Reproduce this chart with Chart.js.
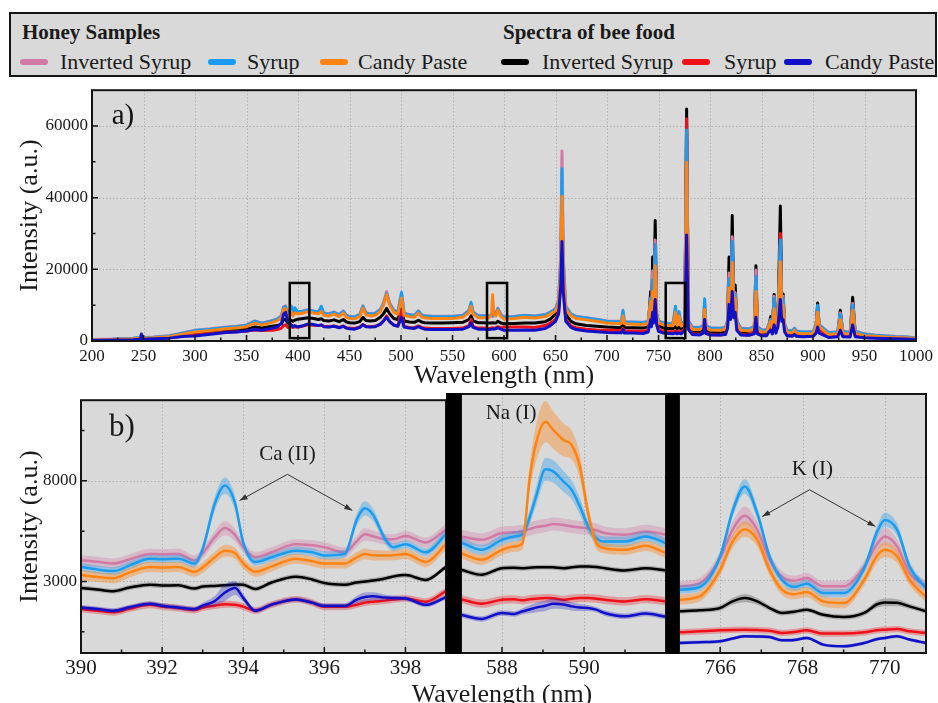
<!DOCTYPE html>
<html><head><meta charset="utf-8">
<script src="https://cdn.jsdelivr.net/npm/chart.js@4.4.1/dist/chart.umd.min.js"></script>
<style>
body{margin:0;background:#fff;width:938px;height:703px;overflow:hidden;position:relative;font-family:'Liberation Serif','Times New Roman',serif;color:#1a1a1a;}
canvas{position:absolute;}
.box{position:absolute;left:9px;top:12px;width:928px;height:65px;border:2px solid #151515;background:#d9d9d9;box-sizing:border-box;}
.hd{position:absolute;font-weight:bold;font-size:21px;line-height:24px;top:20px;white-space:nowrap;}
.it{position:absolute;font-size:22px;line-height:24px;top:50px;white-space:nowrap;}
.mk{position:absolute;top:59px;width:28px;height:6px;border-radius:3px;}
.bar{position:absolute;top:393px;height:261px;background:#000;}
.xt{position:absolute;font-size:26px;line-height:30px;top:679px;left:502px;transform:translateX(-50%);white-space:nowrap;}
</style></head>
<body>
<div class="box"></div>
<div class="hd" style="left:22px">Honey Samples</div>
<div class="hd" style="left:503px">Spectra of bee food</div>
<div class="mk" style="left:20px;background:#d17aa5"></div><div class="it" style="left:60px">Inverted Syrup</div>
<div class="mk" style="left:208px;background:#1b9cf0"></div><div class="it" style="left:247px">Syrup</div>
<div class="mk" style="left:320px;background:#ff8312"></div><div class="it" style="left:358px">Candy Paste</div>
<div class="mk" style="left:501px;background:#000"></div><div class="it" style="left:542px">Inverted Syrup</div>
<div class="mk" style="left:682px;background:#f0101a"></div><div class="it" style="left:724px">Syrup</div>
<div class="mk" style="left:784px;background:#1010c8"></div><div class="it" style="left:825px">Candy Paste</div>

<canvas id="ca" width="938" height="316" style="left:0;top:76px"></canvas>
<canvas id="cb1" width="460" height="317" style="left:0;top:386px"></canvas>
<canvas id="cb2" width="230" height="317" style="left:450px;top:386px"></canvas>
<canvas id="cb3" width="270" height="317" style="left:668px;top:386px"></canvas>
<div class="bar" style="left:446px;width:15px"></div>
<div class="bar" style="left:666px;width:13px"></div>
<div class="xt">Wavelength (nm)</div>

<script>
// ---------------- Panel a) full spectrum ----------------
const wlA = [
200,220,240,247,248,249,260,275,290,300,
315,330,340,350,358,365,375,380,384,386,
388,390,393.4,395,396.8,400,405,410,415,420,
422.7,425,430,435,440,444,447,450,455,460,
463,466,470,475,480,483,486,489,493,497,
500.5,503,508,513,517,520,523,530,540,550,
560,566,568,570,575,580,585,588,589,590,
592,594,597,600,610,620,630,640,645,650,
653,655,656.3,657.5,660,665,670,680,690,700,
710,714,715.5,717,725,735,740,742.4,743.2,744.3,
745.2,746.8,748.2,750,755,760,764,766.5,768,769.9,
772,775.5,777.3,779,783,790,793.5,794.8,796,800,
810,815,817,818.5,820,821.6,823,824.5,826,830,
838,843,844.6,846,850,855,857,859,860.5,862.3,
864,866,868.3,869.7,871,872.5,875,880,882,884,
890,900,903,904.5,906,915,924,926.5,929,936,
938.5,941,950,960,970,980,990,1000];

const honeyInvA = [
450,550,800,1000,2100,1000,1100,1500,2400,3000,
3400,3900,4100,4500,5600,5000,5700,6200,7100,9600,
9800,7100,8600,7600,8400,8200,8400,8800,8400,8200,
8800,7800,7600,8100,7400,8400,7200,6900,6800,7400,
9800,7900,7600,7800,8800,10600,13800,10600,8600,8100,
13000,7800,7400,7200,8400,7300,7100,6900,6900,6900,
7200,8600,10300,8100,7100,7100,7000,7400,6800,7400,
7600,9200,7400,6700,6900,7200,7000,7400,8100,9000,
11500,24000,53000,24000,9800,7600,6900,6500,6100,5600,
5500,5500,8000,5400,5300,5200,5600,11500,6600,19600,
7600,28200,7600,5600,5100,4900,4900,8500,5000,7500,
4800,5600,55000,5600,3900,3800,4400,10800,4400,3700,
3600,3800,5600,19000,8600,29100,9600,13500,5600,3600,
3400,4100,19800,4100,3100,3200,4600,6000,4100,12500,
4600,6600,27000,8600,12500,4600,3000,2800,3600,2800,
2600,2600,4600,9800,4600,2400,2600,7800,2800,2400,
10500,2800,2000,1700,1500,1300,1200,900];

const honeySyrA = [
400,500,750,950,2000,950,1050,1400,2300,2900,
3300,3800,4000,4400,5500,4900,5600,6100,7000,9400,
9600,7000,9800,7500,9300,8100,8300,8700,8300,8100,
9700,7700,7500,8000,7300,8300,7100,6800,6700,7300,
9700,7800,7500,7700,8700,10400,13200,10400,8500,8000,
13600,7700,7300,7100,8300,7200,7000,6800,6800,6800,
7100,8500,10800,8000,7000,7000,6900,7200,7200,7200,
7500,9000,7300,6600,6800,7100,6900,7300,8000,8900,
11200,22000,48100,22000,9500,7500,6800,6400,6000,5500,
5400,5400,8600,5300,5200,5100,5500,12000,6500,17000,
7500,26900,7500,5500,5000,4800,4800,9700,4900,8200,
4700,5500,58900,5500,3800,3700,4300,11800,4300,3600,
3500,3700,5500,17400,8500,27800,9500,13000,5500,3500,
3300,4000,18000,4000,3000,3100,4500,6000,4000,12000,
4500,6500,28200,8500,12000,4500,2900,2700,3500,2700,
2500,2500,4500,10000,4500,2300,2500,7400,2700,2300,
10000,2700,1900,1600,1400,1200,1100,850];

const honeyCandyA = [
300,400,600,800,1900,800,900,1200,2000,2500,
2900,3400,3600,4000,5000,4500,5200,5700,6500,8800,
9000,6500,8000,7000,7800,7600,7800,8200,7800,7600,
8200,7200,7000,7500,6800,7800,6600,6300,6200,6800,
9200,7300,7000,7200,8200,10000,12900,10000,8000,7500,
12000,7200,6800,6600,7800,6700,6500,6300,6300,6300,
6600,8000,9700,7500,6500,6500,6400,7500,12900,7500,
7000,8600,6800,6100,6300,6600,6400,6800,7500,8400,
10500,20000,40400,20000,9000,7000,6300,5900,5500,5000,
4900,4900,7000,4800,4700,4600,5000,11000,6000,13800,
7000,21000,7000,5000,4500,4300,4300,8000,4400,7000,
4200,5000,49900,5000,3300,3200,3800,8800,3800,3100,
3000,3200,5000,14700,8000,21900,9000,12000,5000,3000,
2800,3500,13800,3500,2500,2600,4000,5500,3500,9000,
4000,6000,22100,8000,10000,4000,2400,2200,3000,2200,
2000,2000,4000,8000,4000,1800,2000,6000,2200,1800,
8500,2200,1500,1300,1100,1000,900,700];

const foodInvA = [
250,350,500,700,1700,700,800,1050,1700,2100,
2500,2900,3000,3300,3900,3600,4100,4300,4800,6000,
6000,5000,5800,5500,5800,6100,6300,6500,6300,6000,
6200,5700,5600,5900,5400,6000,5300,5100,5000,5400,
6600,5700,5600,5700,6600,7600,9100,7600,6300,6000,
9000,5600,5300,5200,5800,5300,5100,5000,5000,5100,
5200,6000,7000,5600,5100,5100,5000,5000,5100,5000,
5000,5500,5000,4800,4900,5000,5000,5400,6100,7500,
9500,18000,38000,18000,7500,5500,4800,4300,4100,3900,
3800,3800,5000,3700,3700,3600,4000,13800,6000,23450,
8000,33600,7000,4300,3600,3500,3400,4000,3400,3900,
3300,4000,64750,4500,2500,2400,3000,9000,3000,2300,
2300,2500,5000,23450,9000,35000,10000,15600,5000,2400,
2200,3500,21000,3500,2000,2100,4000,6800,3500,13000,
4200,6000,37700,9000,13100,4000,1900,1800,2600,1800,
1600,1700,4000,10600,4000,1500,1800,8600,2000,1700,
12200,2000,1300,1100,950,850,750,600];

const foodSyrA = [
200,300,400,600,1500,600,700,900,1400,1700,
2100,2500,2600,2800,3100,2900,3000,3200,3600,4300,
4500,3800,4000,3800,4000,3900,4200,4600,4400,4300,
4400,4100,4000,4200,3800,4200,3700,3600,3500,3900,
4600,4100,4000,4100,4700,5600,7000,5400,4500,4200,
8400,4100,3800,3700,4200,3800,3600,3500,3500,3500,
3600,4300,6000,4000,3600,3600,3500,3600,3700,3600,
3700,4000,3700,3900,3900,3900,3800,4300,5000,6000,
8000,16000,36000,15000,6000,4200,3700,3300,3100,3000,
2900,2900,3500,2800,2800,2700,3000,12000,5000,19000,
7000,27000,6000,3200,2700,2600,2500,2800,2500,2700,
2500,3500,62000,4000,2000,1800,2400,7500,2300,1800,
1700,1900,4000,18000,8000,28000,9000,13000,4000,1800,
1700,3000,18000,3000,1600,1600,3000,5500,3000,11000,
3500,5000,30000,8000,11000,3500,1500,1400,2200,1400,
1300,1400,3500,9000,3400,1200,1500,7500,1600,1400,
10000,1600,1100,950,800,700,650,500];

const foodCandyA = [
150,250,350,500,1800,500,600,800,1300,1400,
1900,2400,2500,2800,3200,3000,3600,3900,5000,7500,
8000,5500,4500,4000,4300,3900,4300,4800,4600,4300,
4500,4000,3900,4100,3700,4100,3600,3400,3300,3800,
4500,4000,3900,4000,4700,5600,6600,5400,4400,4100,
6600,3900,3600,3500,4000,3600,3300,3200,3200,3200,
3300,4000,5000,3800,3300,3300,3200,3300,3400,3300,
3400,3700,3300,3000,3000,3100,3000,3500,4300,5500,
7500,15000,27800,14000,5500,3800,3200,2800,2600,2400,
2300,2300,3200,2200,2200,2100,2500,6000,4000,8000,
5000,11550,4500,2700,2200,2100,2000,2300,2000,2200,
2000,3000,29600,3200,1800,1700,2200,6000,2100,1700,
1700,1800,3500,10200,6000,13800,6500,8000,3000,1700,
1600,2000,6600,2000,1500,1500,2500,3000,2000,4500,
2200,4000,11550,5500,6000,2500,1400,1400,1800,1300,
1200,1300,2200,3900,2200,1000,1200,3000,1200,1100,
4500,1200,900,800,700,600,550,400];

const xTicksA = [200,250,300,350,400,450,500,550,600,650,700,750,800,850,900,950,1000];
const xMinorA = [225,275,325,375,425,475,525,575,625,675,725,775,825,875,925,975];
const yTicksA = [0,20000,40000,60000];
const yMinorA = [10000,30000,50000];
// zoom windows marked in a) : [x0, x1] in nm and [y0, y1] in a.u.
const zoomBoxesA = [[392,411],[583.5,603],[757,776]];
const zoomBoxY = [800,16200];

// ---------------- Panel b) zoomed regions ----------------
const wlB1 = [390,390.4,390.8,391.2,391.7,392.0,392.4,392.8,393.0,393.3,393.55,393.8,394.0,394.3,394.7,395.3,395.7,396.0,396.5,396.8,397.0,397.2,397.5,397.7,398.0,398.5,399.0];
const honeyInvB1 = [4050,3980,3890,4100,4370,4350,4370,4050,4400,5200,5650,5300,4700,4210,4450,4850,4800,4700,4450,5000,5340,5250,5100,5100,5260,4935,5580];
const honeySyrB1 = [3725,3600,3515,3800,4130,4100,4130,3890,4610,6870,7760,6870,4935,3970,4200,4530,4450,4290,4370,6065,6630,6310,5100,4700,4850,4450,5340];
const honeyCandyB1 = [3320,3220,3160,3450,3725,3700,3725,3480,3700,4200,4530,4400,3900,3480,3750,4130,4000,3890,3890,4200,4370,4300,4290,4300,4370,3970,4850];
const foodInvB1 = [2680,2600,2520,2700,2840,2800,2810,2650,2750,2780,2810,2850,2840,2630,2950,3240,3100,2920,2840,2950,3000,3050,3150,3250,3320,3080,3725];
const foodSyrB1 = [1630,1550,1470,1650,1840,1760,1680,1580,1700,1800,1870,1850,1750,1550,1850,2110,1950,1740,1740,1850,1950,2000,2050,2100,2160,2000,2520];
const foodCandyB1 = [1710,1640,1550,1720,1900,1800,1710,1630,1800,2030,2450,2680,2190,1550,1850,2110,1950,1790,1790,2100,2230,2270,2200,2180,2160,1840,2225];
const sdHoneyInvB1 = [250,250,250,250,250,250,250,250,260,300,350,300,260,250,250,250,250,250,250,270,300,280,260,250,250,250,280];
const sdHoneySyrB1 = [200,200,200,200,200,200,200,200,250,350,400,350,250,200,200,200,200,200,200,300,350,300,230,200,200,200,230];
const sdHoneyCandyB1 = [250,250,250,250,250,250,250,250,260,280,300,280,260,250,250,250,250,250,250,260,270,260,250,250,250,250,270];
const sdFoodInvB1 = [120,120,120,120,120,120,120,120,120,120,120,120,120,120,120,120,120,120,120,120,120,120,120,120,120,120,120];
const sdFoodSyrB1 = [170,170,170,170,170,170,170,170,170,170,170,170,170,170,170,170,170,170,170,170,170,170,170,170,170,170,170];
const sdFoodCandyB1 = [120,120,120,120,120,120,120,120,150,250,420,350,200,120,120,120,120,120,120,180,220,200,150,120,120,120,120];

const wlB2 = [587,587.5,588,588.3,588.5,588.67,588.83,589.06,589.25,589.5,589.7,589.9,590.1,590.3,590.5,591,591.5,592];
const honeyInvB2 = [5100,4935,5260,5300,5340,5450,5550,5620,5700,5650,5580,5530,5500,5400,5260,5180,5340,5180];
const honeySyrB2 = [4810,4450,4935,5100,5200,6000,7030,8350,8250,7760,7355,6550,5580,5020,4850,4850,5100,4770];
const honeyCandyB2 = [4290,3970,4450,4610,4770,7840,9610,10660,10260,9770,9530,8480,6230,4770,4530,4450,4645,4290];
const foodInvB2 = [3480,3240,3560,3580,3560,3580,3600,3610,3600,3560,3600,3640,3645,3620,3560,3450,3560,3450];
const foodSyrB2 = [2060,1840,2030,2050,2000,2050,2080,2110,2100,2030,2080,2110,2110,2080,2030,1950,2060,1950];
const foodCandyB2 = [1300,1100,1390,1340,1470,1560,1650,1740,1840,1800,1710,1650,1630,1550,1390,1230,1360,1200];
const sdHoneyInvB2 = [320,320,320,320,320,320,320,320,320,320,320,320,320,320,320,320,320,320];
const sdHoneySyrB2 = [250,250,250,250,270,350,450,550,550,500,450,400,300,250,250,250,250,250];
const sdHoneyCandyB2 = [250,250,250,250,300,600,900,1000,900,800,700,600,400,280,250,250,250,250];
const sdFoodInvB2 = [120,120,120,120,120,120,120,120,120,120,120,120,120,120,120,120,120,120];
const sdFoodSyrB2 = [200,200,200,200,200,200,200,200,200,200,200,200,200,200,200,200,200,200];
const sdFoodCandyB2 = [130,130,130,130,150,200,230,250,250,230,200,170,150,130,130,130,130,130];

const wlB3 = [765,765.5,766,766.3,766.6,766.9,767.2,767.5,767.8,768.1,768.5,769,769.5,769.8,770,770.3,770.6,771];
const honeyInvB3 = [2680,2840,4050,5420,6100,5420,3970,3160,2950,3080,2680,2680,3645,4700,5100,4610,3320,2680];
const honeySyrB3 = [2520,2650,4130,6310,7520,6230,4130,3000,2650,2810,2355,2355,3560,5260,5900,5420,3645,2600];
const honeyCandyB3 = [2030,2190,3480,4850,5450,4935,3480,2520,2300,2400,1950,1870,3000,4130,4450,4130,3000,2160];
const foodInvB3 = [1470,1520,1630,1950,2110,1950,1630,1390,1450,1540,1300,1190,1390,1800,1900,1880,1710,1470];
const foodSyrB3 = [450,500,550,570,580,560,530,420,470,550,390,390,450,550,580,610,500,420];
const foodCandyB3 = [-65,-30,15,150,260,250,225,65,80,180,-145,-225,-65,120,180,260,100,-65];
const sdHoneyInvB3 = [250,250,300,380,450,380,300,250,250,250,250,250,280,350,420,350,280,250];
const sdHoneySyrB3 = [200,200,230,300,350,300,230,200,200,200,200,200,230,300,350,300,230,200];
const sdHoneyCandyB3 = [250,250,280,330,380,330,280,250,250,250,250,250,270,320,360,320,270,250];
const sdFoodInvB3 = [120,120,130,160,200,160,130,120,120,120,120,120,130,170,190,170,130,120];
const sdFoodSyrB3 = [150,150,150,150,150,150,150,150,150,150,150,150,150,150,150,150,150,150];
const sdFoodCandyB3 = [80,80,80,80,80,80,80,80,80,80,80,80,80,80,80,80,80,80];

const yTicksB = [3000,8000];
const yMinorB = [500,5500,10500];

// ---------------- styling ----------------
Chart.defaults.font.family = "'Liberation Serif','Times New Roman',serif";
Chart.defaults.color = '#1a1a1a';
Chart.defaults.animation = false;

const C = {
  honeyInv:['#d17aa5','rgba(209,122,165,0.35)'],
  honeySyr:['#1b9cf0','rgba(27,156,240,0.35)'],
  honeyCandy:['#ff8312','rgba(255,131,18,0.38)'],
  foodInv:['#000000','rgba(0,0,0,0.22)'],
  foodSyr:['#f0101a','rgba(240,16,26,0.30)'],
  foodCandy:['#1010c8','rgba(16,16,200,0.28)']
};
const GRID = '#b0b0b0';
const AX = '#151515';

function pts(xs, ys){ return xs.map((x,i)=>({x:x, y:ys[i]})); }

function arrow(ctx, x0, y0, x1, y1){
  ctx.beginPath(); ctx.moveTo(x0,y0); ctx.lineTo(x1,y1); ctx.stroke();
  const a = Math.atan2(y1-y0, x1-x0), L = 8, W = 2.8;
  ctx.beginPath(); ctx.moveTo(x1,y1);
  ctx.lineTo(x1 - L*Math.cos(a) + W*Math.sin(a), y1 - L*Math.sin(a) - W*Math.cos(a));
  ctx.lineTo(x1 - L*Math.cos(a) - W*Math.sin(a), y1 - L*Math.sin(a) + W*Math.cos(a));
  ctx.closePath(); ctx.fill();
}

function framePlugin(cfg){
  return {
    id:'frame',
    beforeDraw(chart){
      const {ctx, chartArea:a} = chart;
      ctx.save(); ctx.fillStyle = '#d9d9d9';
      ctx.fillRect(a.left, a.top, a.right-a.left, a.bottom-a.top); ctx.restore();
    },
    beforeDatasetsDraw(chart){
      // dotted grid at the major ticks of the library scales
      const {ctx, chartArea:a} = chart;
      const x = chart.scales.x, y = chart.scales.y;
      ctx.save();
      ctx.strokeStyle = GRID; ctx.lineWidth = 1; ctx.setLineDash([1.5,2]);
      ctx.beginPath();
      x.ticks.forEach(t=>{const p=Math.round(x.getPixelForValue(t.value))+0.5; if(p>a.left+1 && p<a.right-1){ctx.moveTo(p,a.top); ctx.lineTo(p,a.bottom);}});
      y.ticks.forEach(t=>{const p=Math.round(y.getPixelForValue(t.value))+0.5; if(p>a.top+1 && p<a.bottom-1){ctx.moveTo(a.left,p); ctx.lineTo(a.right,p);}});
      ctx.stroke();
      ctx.restore();
    },
    afterDraw(chart){
      const {ctx, chartArea:a} = chart;
      const x = chart.scales.x, y = chart.scales.y;
      ctx.save();
      ctx.strokeStyle = AX; ctx.lineWidth = 1.5;
      ctx.beginPath();
      cfg.xMajor.forEach(v=>{const p=x.getPixelForValue(v); ctx.moveTo(p,a.bottom); ctx.lineTo(p,a.bottom-6);});
      cfg.xMinor.forEach(v=>{const p=x.getPixelForValue(v); ctx.moveTo(p,a.bottom); ctx.lineTo(p,a.bottom-3.5);});
      if (cfg.yTicks){
        cfg.yMajor.forEach(v=>{const p=y.getPixelForValue(v); ctx.moveTo(a.left,p); ctx.lineTo(a.left+6,p);});
        cfg.yMinor.forEach(v=>{const p=y.getPixelForValue(v); ctx.moveTo(a.left,p); ctx.lineTo(a.left+3.5,p);});
      }
      ctx.stroke();
      ctx.lineWidth = 2;
      ctx.strokeRect(a.left, a.top, a.right-a.left, a.bottom-a.top);
      if (cfg.extra) cfg.extra(chart, ctx, a, x, y);
      ctx.restore();
    }
  };
}

function xAxis(min, max, majors, fontSize, pad, height, title){
  return {
    type:'linear', min:min, max:max,
    afterBuildTicks:s=>{ s.ticks = majors.map(v=>({value:v})); },
    afterFit:s=>{ s.height = height; },
    ticks:{ autoSkip:false, maxRotation:0, padding:pad, font:{size:fontSize}, callback:v=>String(v) },
    grid:{ display:false, drawTicks:false },
    border:{ display:false },
    title: title ? {display:true, text:title, font:{size:26}, padding:{top:0,bottom:0}} : {display:false}
  };
}

// ---------------- chart a ----------------
new Chart(document.getElementById('ca'), {
  type:'line',
  data:{ datasets:[
    {data:pts(wlA, foodCandyA), borderColor:C.foodCandy[0]},
    {data:pts(wlA, honeyCandyA), borderColor:C.honeyCandy[0]},
    {data:pts(wlA, honeySyrA), borderColor:C.honeySyr[0]},
    {data:pts(wlA, honeyInvA), borderColor:C.honeyInv[0]},
    {data:pts(wlA, foodSyrA), borderColor:C.foodSyr[0]},
    {data:pts(wlA, foodInvA), borderColor:C.foodInv[0]}
  ].map(d=>Object.assign(d,{borderWidth:3, pointRadius:0, tension:0, fill:false, borderJoinStyle:'round'}))},
  options:{
    responsive:false, devicePixelRatio:1,
    layout:{padding:{top:6, right:20, left:0, bottom:0}},
    plugins:{legend:{display:false}, tooltip:{enabled:false}},
    scales:{
      x: xAxis(200, 1000, xTicksA, 17, 5, 51, 'Wavelength (nm)'),
      y:{
        type:'linear', min:0, max:70000,
        afterBuildTicks:s=>{ s.ticks = yTicksA.map(v=>({value:v})); },
        afterFit:s=>{ s.width = 92; },
        ticks:{ padding:4, font:{size:17}, callback:v=>String(v) },
        grid:{ display:false, drawTicks:false },
        border:{ display:false },
        title:{display:true, text:'Intensity (a.u.)', font:{size:26}, padding:{top:15,bottom:0}}
      }
    }
  },
  plugins:[framePlugin({xMajor:xTicksA, xMinor:xMinorA, yTicks:true, yMajor:yTicksA, yMinor:yMinorA,
    extra:(chart, ctx, a, x, y)=>{
      ctx.strokeStyle = '#000'; ctx.lineWidth = 2.5;
      zoomBoxesA.forEach(b=>{
        const x0 = x.getPixelForValue(b[0]), x1 = x.getPixelForValue(b[1]);
        const y0 = y.getPixelForValue(zoomBoxY[1]), y1 = y.getPixelForValue(zoomBoxY[0]);
        ctx.strokeRect(x0, y0, x1-x0, y1-y0);
      });
      ctx.fillStyle = '#111'; ctx.font = "29px 'Liberation Serif', serif";
      ctx.textAlign = 'center'; ctx.textBaseline = 'middle';
      ctx.fillText('a)', a.left+31, a.top+26);
    }})]
});

// ---------------- charts b ----------------
function bandSets(xs, mean, sd, col){
  return [
    {data:pts(xs, mean), borderColor:col[0], borderWidth:2.5, fill:false},
    {data:pts(xs, mean.map((m,i)=>m+sd[i])), borderColor:'rgba(0,0,0,0)', borderWidth:0, backgroundColor:col[1], fill:'+1'},
    {data:pts(xs, mean.map((m,i)=>m-sd[i])), borderColor:'rgba(0,0,0,0)', borderWidth:0, fill:false}
  ];
}

function makeB(id, xs, S, xmin, xmax, xMajor, xMinor, pad, showY, extra){
  const ds = [].concat(
    bandSets(xs, S.foodCandy[0], S.foodCandy[1], C.foodCandy),
    bandSets(xs, S.honeyCandy[0], S.honeyCandy[1], C.honeyCandy),
    bandSets(xs, S.honeySyr[0], S.honeySyr[1], C.honeySyr),
    bandSets(xs, S.honeyInv[0], S.honeyInv[1], C.honeyInv),
    bandSets(xs, S.foodSyr[0], S.foodSyr[1], C.foodSyr),
    bandSets(xs, S.foodInv[0], S.foodInv[1], C.foodInv)
  ).map(d=>Object.assign(d,{pointRadius:0, cubicInterpolationMode:'monotone'}));
  return new Chart(document.getElementById(id), {
    type:'line',
    data:{datasets:ds},
    options:{
      responsive:false, devicePixelRatio:1,
      layout:{padding:pad},
      plugins:{legend:{display:false}, tooltip:{enabled:false}, filler:{propagate:false}},
      scales:{
        x: xAxis(xmin, xmax, xMajor, 21, 3, 50, null),
        y:{
          type:'linear', min:-550, max:12000,
          afterBuildTicks:s=>{ s.ticks = yTicksB.map(v=>({value:v})); },
          afterFit:s=>{ s.width = showY ? 81 : 0; },
          ticks:{ display:showY, padding:4, font:{size:17}, callback:v=>String(v) },
          grid:{ display:false, drawTicks:false },
          border:{ display:false },
          title:{display:showY, text:'Intensity (a.u.)', font:{size:26}, padding:{top:15,bottom:0}}
        }
      }
    },
    plugins:[framePlugin({xMajor:xMajor, xMinor:xMinor, yTicks:showY, yMajor:yTicksB, yMinor:yMinorB, extra:extra})]
  });
}

function label(ctx, txt, px, py, size){
  ctx.fillStyle = '#1a1a1a'; ctx.font = size + "px 'Liberation Serif', serif";
  ctx.textAlign = 'center'; ctx.textBaseline = 'middle'; ctx.fillText(txt, px, py);
}

makeB('cb1', wlB1, {
  honeyInv:[honeyInvB1, sdHoneyInvB1], honeySyr:[honeySyrB1, sdHoneySyrB1], honeyCandy:[honeyCandyB1, sdHoneyCandyB1],
  foodInv:[foodInvB1, sdFoodInvB1], foodSyr:[foodSyrB1, sdFoodSyrB1], foodCandy:[foodCandyB1, sdFoodCandyB1]
}, 390, 399, [390,392,394,396,398], [391,393,395,397,399], {top:8, right:14, left:0, bottom:0}, true,
(chart, ctx, a, x, y)=>{
  label(ctx, 'Ca (II)', x.getPixelForValue(395.09), y.getPixelForValue(9290), 21);
  ctx.strokeStyle = '#333'; ctx.fillStyle = '#333'; ctx.lineWidth = 1;
  arrow(ctx, x.getPixelForValue(395.09), y.getPixelForValue(8320), x.getPixelForValue(393.91), y.getPixelForValue(7020));
  arrow(ctx, x.getPixelForValue(395.09), y.getPixelForValue(8320), x.getPixelForValue(396.69), y.getPixelForValue(6530));
  label(ctx, 'b)', a.left+41, a.top+28, 31);
});

makeB('cb2', wlB2, {
  honeyInv:[honeyInvB2, sdHoneyInvB2], honeySyr:[honeySyrB2, sdHoneySyrB2], honeyCandy:[honeyCandyB2, sdHoneyCandyB2],
  foodInv:[foodInvB2, sdFoodInvB2], foodSyr:[foodSyrB2, sdFoodSyrB2], foodCandy:[foodCandyB2, sdFoodCandyB2]
}, 587, 592, [588,590], [587,589,591], {top:8, right:14, left:11, bottom:0}, false,
(chart, ctx, a, x, y)=>{
  label(ctx, 'Na (I)', x.getPixelForValue(588.22), y.getPixelForValue(11080), 21);
});

makeB('cb3', wlB3, {
  honeyInv:[honeyInvB3, sdHoneyInvB3], honeySyr:[honeySyrB3, sdHoneySyrB3], honeyCandy:[honeyCandyB3, sdHoneyCandyB3],
  foodInv:[foodInvB3, sdFoodInvB3], foodSyr:[foodSyrB3, sdFoodSyrB3], foodCandy:[foodCandyB3, sdFoodCandyB3]
}, 765, 771, [766,768,770], [765,767,769,771], {top:8, right:12, left:11, bottom:0}, false,
(chart, ctx, a, x, y)=>{
  label(ctx, 'K (I)', x.getPixelForValue(768.24), y.getPixelForValue(8320), 21);
  ctx.strokeStyle = '#333'; ctx.fillStyle = '#333'; ctx.lineWidth = 1;
  arrow(ctx, x.getPixelForValue(768.17), y.getPixelForValue(7360), x.getPixelForValue(767.02), y.getPixelForValue(6060));
  arrow(ctx, x.getPixelForValue(768.17), y.getPixelForValue(7360), x.getPixelForValue(769.77), y.getPixelForValue(5580));
});
</script>
</body></html>
